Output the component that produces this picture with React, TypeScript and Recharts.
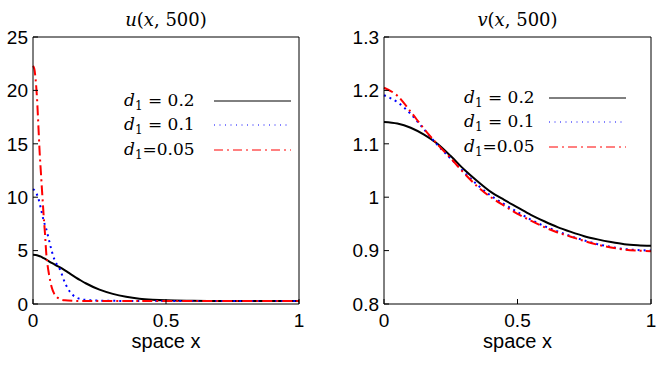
import { LineChart, Line, XAxis, YAxis, Customized } from 'recharts';

// u(x,500) for the three diffusion rates
const uX20 = [0, 0.01, 0.02, 0.03, 0.04, 0.05, 0.06, 0.07, 0.08, 0.09, 0.1, 0.12, 0.14, 0.16, 0.18, 0.2, 0.25, 0.3, 0.35, 0.4, 0.45, 0.5, 0.6, 0.7, 0.8, 0.9, 1];
const uY20 = [4.6, 4.58, 4.52, 4.43, 4.3, 4.16, 4.0, 3.85, 3.72, 3.58, 3.45, 3.15, 2.82, 2.5, 2.2, 1.92, 1.34, 0.95, 0.68, 0.5, 0.4, 0.34, 0.3, 0.28, 0.27, 0.27, 0.27];
const uX10 = [0, 0.01, 0.02, 0.03, 0.04, 0.05, 0.06, 0.07, 0.08, 0.09, 0.1, 0.12, 0.14, 0.16, 0.18, 0.2, 0.25, 0.3, 0.4, 0.5, 0.7, 1];
const uY10 = [10.75, 10.5, 9.9, 8.9, 7.8, 7.0, 6.0, 5.0, 4.2, 3.7, 3.3, 2.0, 1.1, 0.65, 0.45, 0.38, 0.32, 0.3, 0.28, 0.28, 0.27, 0.27];
const uX05 = [0, 0.005, 0.01, 0.015, 0.02, 0.025, 0.03, 0.035, 0.04, 0.045, 0.05, 0.055, 0.06, 0.07, 0.08, 0.09, 0.1, 0.12, 0.15, 0.2, 0.4, 0.7, 1];
const uY05 = [22.3, 22.0, 21.0, 19.3, 16.8, 14.2, 12.2, 10.2, 8.3, 6.6, 4.7, 3.6, 2.8, 1.6, 0.95, 0.65, 0.48, 0.34, 0.3, 0.28, 0.27, 0.27, 0.27];

// v(x,500)
const vX = [0, 0.05, 0.1, 0.15, 0.2, 0.25, 0.3, 0.35, 0.4, 0.45, 0.5, 0.55, 0.6, 0.65, 0.7, 0.75, 0.8, 0.85, 0.9, 0.95, 1];
const vY20 = [1.141, 1.138, 1.13, 1.117, 1.1, 1.077, 1.052, 1.03, 1.01, 0.995, 0.981, 0.967, 0.955, 0.944, 0.935, 0.927, 0.921, 0.916, 0.912, 0.91, 0.909];
const vY10 = [1.191, 1.178, 1.156, 1.127, 1.098, 1.072, 1.047, 1.023, 1.003, 0.987, 0.972, 0.958, 0.946, 0.936, 0.927, 0.919, 0.912, 0.907, 0.903, 0.901, 0.9];
const vY05 = [1.205, 1.19, 1.16, 1.128, 1.099, 1.073, 1.045, 1.02, 1.0, 0.984, 0.969, 0.956, 0.944, 0.934, 0.926, 0.918, 0.911, 0.906, 0.902, 0.9, 0.899];

const xTicks = [0, 0.5, 1];
const uTicks = [0, 5, 10, 15, 20, 25];
const vTicks = [0.8, 0.9, 1, 1.1, 1.2, 1.3];
const legendValues = [' = 0.2', ' = 0.1', '=0.05'];

const zip = (xs: number[], ys: number[]) => xs.map((x, i) => ({ x, y: ys[i] }));

const SERIES = [
  { name: 'd1=0.2', color: '#000000', dash: undefined, legendDash: undefined },
  { name: 'd1=0.1', color: '#0000ff', dash: '2 4', legendDash: '1 4.5' },
  { name: 'd1=0.05', color: '#ff0000', dash: '10 4 2 4', legendDash: '9 4 2 4' },
];

const SANS = 'Liberation Sans, Arial, sans-serif';
const TICK_FONT = { fontSize: 19, fill: '#000', fontFamily: SANS };
const SERIF = 'DejaVu Serif, serif';

function LegendBox({ left, top, lineX1 }: { left: number; top: number; lineX1: number }) {
  const rows = [21, 45, 70];
  return (
    <g transform={`translate(${left},${top})`}>
      {SERIES.map((s, i) => (
        <g key={s.name}>
          <text x={4} y={rows[i]} fontFamily={SERIF} fontSize={17} fill="#000">
            <tspan fontStyle="italic">d</tspan>
            <tspan fontSize={12} dy={4}>1</tspan>
            <tspan dy={-4}>{legendValues[i]}</tspan>
          </text>
          <line
            x1={lineX1}
            x2={lineX1 + 77}
            y1={rows[i] - 5}
            y2={rows[i] - 5}
            stroke={s.color}
            strokeWidth={1}
            strokeDasharray={s.legendDash}
          />
        </g>
      ))}
    </g>
  );
}

function Title({ viewBox, fn }: any) {
  const cx = viewBox.x + viewBox.width / 2;
  return (
    <text x={cx} y={26} textAnchor="middle" fontFamily={SERIF} fontSize={18} fill="#000">
      <tspan fontStyle="italic">{fn}</tspan>
      <tspan>(</tspan>
      <tspan fontStyle="italic">x</tspan>
      <tspan>, 500)</tspan>
    </text>
  );
}

function XLabel({ viewBox }: any) {
  const cx = viewBox.x + viewBox.width / 2;
  return (
    <text x={cx} y={348} textAnchor="middle" fontSize={20} fontFamily={SANS} fill="#000">
      space x
    </text>
  );
}

function Panel({
  width,
  leftW,
  rightW,
  domain,
  yTicks,
  fn,
  data,
  legendLeft,
  legendTop,
  lineX1,
}: {
  width: number;
  leftW: number;
  rightW: number;
  domain: [number, number];
  yTicks: number[];
  fn: string;
  data: { x: number; y: number }[][];
  legendLeft: number;
  legendTop: number;
  lineX1: number;
}) {
  return (
    <LineChart width={width} height={366} margin={{ top: 0, right: 0, bottom: 0, left: 0 }}>
      <XAxis
        xAxisId="b"
        dataKey="x"
        type="number"
        domain={[0, 1]}
        ticks={xTicks}
        interval={0}
        orientation="bottom"
        height={62}
        tickSize={-5}
        tickMargin={15}
        tick={TICK_FONT}
        stroke="#000"
        label={(p: any) => <XLabel {...p} />}
      />
      <XAxis
        xAxisId="t"
        dataKey="x"
        type="number"
        domain={[0, 1]}
        ticks={xTicks}
        interval={0}
        orientation="top"
        height={37}
        tickSize={-5}
        tick={false}
        stroke="#000"
        label={(p: any) => <Title {...p} fn={fn} />}
      />
      <YAxis
        yAxisId="l"
        type="number"
        domain={domain}
        ticks={yTicks}
        interval={0}
        orientation="left"
        width={leftW}
        tickSize={-5}
        tickMargin={10}
        tick={TICK_FONT}
        tickFormatter={(v) => String(v)}
        stroke="#000"
      />
      <YAxis
        yAxisId="r"
        type="number"
        domain={domain}
        ticks={yTicks}
        interval={0}
        orientation="right"
        width={rightW}
        tickSize={-5}
        tick={false}
        stroke="#000"
      />
      {SERIES.map((s, i) => (
        <Line
          key={s.name}
          xAxisId="b"
          yAxisId="l"
          data={data[i]}
          dataKey="y"
          name={s.name}
          type="monotone"
          stroke={s.color}
          strokeWidth={2}
          strokeDasharray={s.dash}
          dot={false}
          activeDot={false}
          isAnimationActive={false}
        />
      ))}
      <Customized component={() => <LegendBox left={legendLeft} top={legendTop} lineX1={lineX1} />} />
    </LineChart>
  );
}

export default function App() {
  return (
    <div
      style={{
        position: 'absolute',
        left: 0,
        top: 0,
        width: 663,
        height: 366,
        background: '#fff',
        display: 'flex',
      }}
    >
      <Panel
        width={330}
        leftW={33}
        rightW={31}
        domain={[0, 25]}
        yTicks={uTicks}
        fn="u"
        data={[zip(uX20, uY20), zip(uX10, uY10), zip(uX05, uY05)]}
        legendLeft={120}
        legendTop={85}
        lineX1={94}
      />
      <Panel
        width={333}
        leftW={54}
        rightW={12}
        domain={[0.8, 1.3]}
        yTicks={vTicks}
        fn="v"
        data={[zip(vX, vY20), zip(vX, vY10), zip(vX, vY05)]}
        legendLeft={130}
        legendTop={82}
        lineX1={89}
      />
    </div>
  );
}
